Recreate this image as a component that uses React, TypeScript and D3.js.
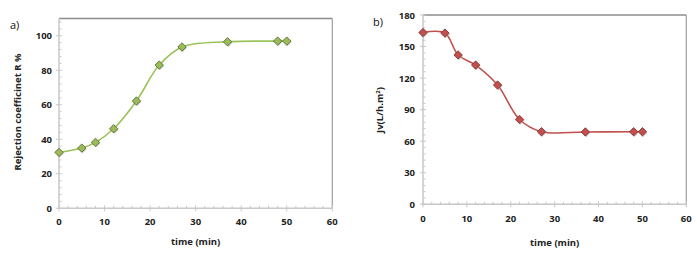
import React from "react";
import * as d3 from "d3";

const times = [0, 5, 8, 12, 17, 22, 27, 37, 48, 50];
const rejection = [32.4, 34.9, 38.2, 46.1, 62.2, 83, 93.5, 96.5, 96.9, 96.9];
const flux = [163.3, 162.8, 142, 132.4, 113.4, 80.6, 69, 68.8, 69, 69];
const xTicks = [0, 10, 20, 30, 40, 50, 60];
const yTicksA = [0, 20, 40, 60, 80, 100];
const yTicksB = [0, 30, 60, 90, 120, 150, 180];

const FONT = "'Open Sans', 'Liberation Sans', sans-serif";

type PanelProps = {
  x0: number; x1: number; y0: number; yTop: number;
  yMax: number; yTicks: number[]; yMinor: number;
  values: number[]; line: string; fill: string; stroke: string;
  label: string; labelX: number; labelY: number;
  yTitle: React.ReactNode; yTitleX: number; yTitleY: number;
  xTitleY: number; xTickY: number; yTickX: number;
};

function Panel(p: PanelProps) {
  const x = d3.scaleLinear().domain([0, 60]).range([p.x0, p.x1]);
  const y = d3.scaleLinear().domain([0, p.yMax]).range([p.y0, p.yTop]);
  const gen = d3.line<number>()
    .x((_, i) => x(times[i]))
    .y((v) => y(v))
    .curve(d3.curveCatmullRom.alpha(0.5));
  const xMinor = d3.range(0, 61, 2).filter((v) => v % 10 !== 0);
  const yMinor = d3.range(0, p.yMax + 0.01, p.yMinor).filter((v) => !p.yTicks.includes(v));
  const axisColor = "#c8c8c8";
  const s = 4.2;
  return (
    <g>
      {/* frame top/right */}
      <line x1={p.x0} x2={p.x1} y1={p.yTop} y2={p.yTop} stroke="#8c8c8c" strokeWidth={1.6} />
      <line x1={p.x1} x2={p.x1} y1={p.yTop} y2={p.y0} stroke="#a0a0a0" strokeWidth={1.2} />
      {/* axes */}
      <line x1={p.x0} x2={p.x1} y1={p.y0} y2={p.y0} stroke={axisColor} strokeWidth={1.5} />
      <line x1={p.x0} x2={p.x0} y1={p.yTop} y2={p.y0} stroke={axisColor} strokeWidth={1.5} />
      {xTicks.map((t) => (
        <g key={"xt" + t}>
          <line x1={x(t)} x2={x(t)} y1={p.y0 - 3} y2={p.y0 + 3} stroke={axisColor} />
          <text x={x(t)} y={p.xTickY} textAnchor="middle" fontSize={9.5} fontWeight="bold" fill="#222" fontFamily={FONT}>{t}</text>
        </g>
      ))}
      {xMinor.map((t) => (
        <line key={"xm" + t} x1={x(t)} x2={x(t)} y1={p.y0 - 2.5} y2={p.y0} stroke={axisColor} />
      ))}
      {p.yTicks.map((t) => (
        <g key={"yt" + t}>
          <line x1={p.x0 - 3} x2={p.x0 + 3} y1={y(t)} y2={y(t)} stroke={axisColor} />
          <text x={p.yTickX} y={y(t) + 3.5} textAnchor="end" fontSize={9.5} fontWeight="bold" fill="#222" fontFamily={FONT}>{t}</text>
        </g>
      ))}
      {yMinor.map((t) => (
        <line key={"ym" + t} x1={p.x0} x2={p.x0 + 2.5} y1={y(t)} y2={y(t)} stroke={axisColor} />
      ))}
      <path d={gen(p.values) || ""} fill="none" stroke={p.line} strokeWidth={1.6} />
      {p.values.map((v, i) => {
        const cx = x(times[i]);
        const cy = y(v);
        return (
          <g key={"m" + i}>
            <path d={`M${cx + 0.8},${cy - s + 1}L${cx + s + 0.8},${cy + 1}L${cx + 0.8},${cy + s + 1}L${cx - s + 0.8},${cy + 1}Z`} fill="#b0b0b0" opacity={0.6} />
            <path d={`M${cx},${cy - s}L${cx + s},${cy}L${cx},${cy + s}L${cx - s},${cy}Z`} fill={p.fill} stroke={p.stroke} strokeWidth={0.8} />
          </g>
        );
      })}
      <text x={p.labelX} y={p.labelY} fontSize={11} fill="#111" fontFamily={FONT}>{p.label}</text>
      <text x={(p.x0 + p.x1) / 2} y={p.xTitleY} textAnchor="middle" fontSize={9.5} fontWeight="bold" fill="#222" fontFamily={FONT}>time (min)</text>
      <text transform={`translate(${p.yTitleX},${p.yTitleY}) rotate(-90)`} textAnchor="middle" fontSize={9.5} fontWeight="bold" fill="#222" fontFamily={FONT}>{p.yTitle}</text>
    </g>
  );
}

export default function App() {
  return (
    <svg width={697} height={256} style={{ position: "absolute", left: 0, top: 0, background: "#fff" }}>
      <rect width={697} height={256} fill="#fff" />
      <Panel x0={59} x1={332.3} y0={208.3} yTop={18.5} yMax={110} yTicks={yTicksA} yMinor={4}
        values={rejection} line="#9bc35a" fill="#9bbb59" stroke="#4f6228"
        label="a)" labelX={10} labelY={29}
        yTitle="Rejection coefficinet R %" yTitleX={21} yTitleY={112}
        xTitleY={245} xTickY={225} yTickX={52} />
      <Panel x0={423} x1={686.3} y0={204.3} yTop={15} yMax={180} yTicks={yTicksB} yMinor={6}
        values={flux} line="#c0504d" fill="#c0504d" stroke="#7f2a28"
        label="b)" labelX={373} labelY={26}
        yTitle={<tspan>Jv(L/h.m<tspan fontSize={6} dy={-3}>2</tspan><tspan dy={3}>)</tspan></tspan>} yTitleX={383} yTitleY={110}
        xTitleY={246} xTickY={222} yTickX={415} />
    </svg>
  );
}
